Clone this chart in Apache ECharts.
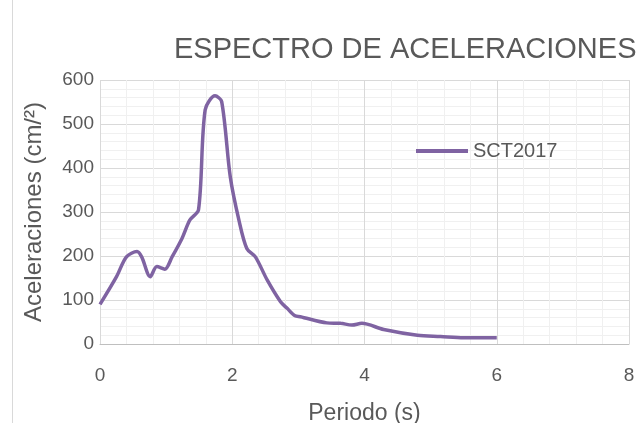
<!DOCTYPE html>
<html><head><meta charset="utf-8">
<script src="https://cdn.jsdelivr.net/npm/echarts@6/dist/echarts.min.js"></script>
<style>html,body{margin:0;padding:0;background:#fff}#c{width:641px;height:423px}</style>
</head><body><div id="c"></div>
<script>
const periods = [0, 0.25, 0.40, 0.56, 0.63, 0.76, 0.86, 0.98, 1.09, 1.24, 1.36, 1.49, 1.59, 1.74, 1.84, 1.97, 2.10, 2.22, 2.35, 2.53, 2.73, 2.83, 2.95, 3.03, 3.43, 3.64, 3.81, 3.96, 4.29, 4.80, 5.15, 5.50, 6.00];
const accel = [90, 153, 198, 210, 198, 153, 176, 170, 198, 240, 282, 305, 532, 564, 551, 380, 282, 217, 198, 145, 96, 81, 64, 62, 48, 47, 43, 47, 33, 20, 17, 14, 14];
const seriesName = 'SCT2017';
const titleText = 'ESPECTRO DE ACELERACIONES';
const xName = 'Periodo (s)';
const yName = 'Aceleraciones (cm/²)';

const font = 'Liberation Sans';
const txt = '#595959';
const chart = echarts.init(document.getElementById('c'));
chart.setOption({
  animation: false,
  backgroundColor: '#fff',
  title: { text: titleText, left: 169, top: 30, textStyle: { fontFamily: font, fontSize: 29, fontWeight: 'normal', color: txt } },
  legend: { data: [seriesName], left: 411, top: 136, itemWidth: 52, itemHeight: 4, itemGap: 4,
    icon: 'rect', textStyle: { fontFamily: font, fontSize: 20, color: txt } },
  grid: { left: 100, right: 12, top: 80, bottom: 79, containLabel: false, outerBoundsMode: 'none' },
  xAxis: { type: 'value', min: 0, max: 8, interval: 2,
    name: xName, nameLocation: 'middle', nameGap: 58,
    nameTextStyle: { fontFamily: font, fontSize: 23, color: txt },
    axisLine: { show: true, lineStyle: { color: '#bfbfbf', width: 1 } },
    axisTick: { show: false },
    axisLabel: { margin: 22, fontFamily: font, fontSize: 19, color: txt },
    splitLine: { show: true, lineStyle: { color: '#d9d9d9' } },
    minorTick: { show: false, splitNumber: 5 },
    minorSplitLine: { show: true, lineStyle: { color: '#f0f0f0' } } },
  yAxis: { type: 'value', min: 0, max: 600, interval: 100,
    name: yName, nameLocation: 'middle', nameGap: 54, nameRotate: 90,
    nameTextStyle: { fontFamily: font, fontSize: 24, color: txt },
    axisLine: { show: false }, axisTick: { show: false },
    axisLabel: { margin: 6, fontFamily: font, fontSize: 19, color: txt },
    splitLine: { show: true, lineStyle: { color: '#d9d9d9' } },
    minorTick: { show: false, splitNumber: 5 },
    minorSplitLine: { show: true, lineStyle: { color: '#f0f0f0' } } },
  graphic: [{ type: 'line', shape: { x1: 12.5, y1: 0, x2: 12.5, y2: 423 }, style: { stroke: '#d9d9d9', lineWidth: 1 } }],
  series: [{ name: seriesName, type: 'line', smooth: 0.3, showSymbol: false, symbol: 'none',
    data: periods.map((p, i) => [p, accel[i]]),
    lineStyle: { color: '#7f63a2', width: 3.5 }, itemStyle: { color: '#7f63a2' } }]
});
</script></body></html>
